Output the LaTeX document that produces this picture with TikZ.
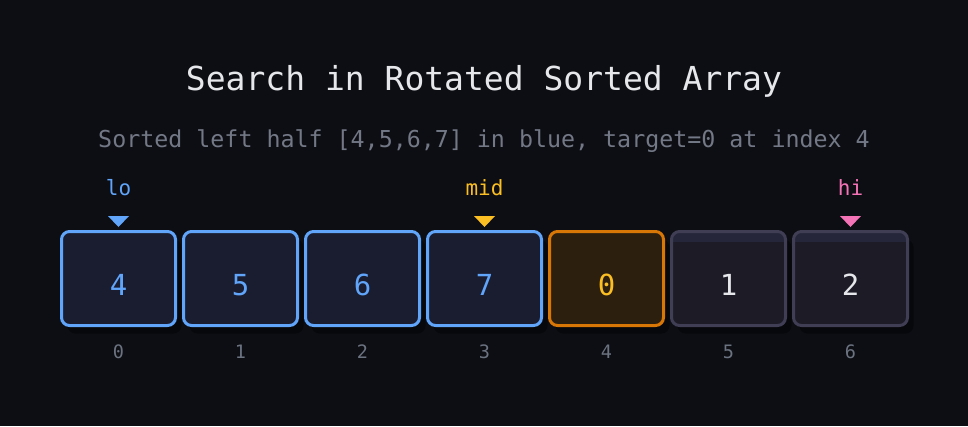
\documentclass[tikz,border=0pt]{standalone}
\usepackage{fontspec}
\setmonofont{DejaVu Sans Mono}
\definecolor{bg}{HTML}{0D0E13}
\definecolor{shadow}{HTML}{07080B}
\definecolor{titlec}{HTML}{E5E7EB}
\definecolor{subc}{HTML}{737886}
\definecolor{idxc}{HTML}{6B7280}
\definecolor{blueb}{HTML}{60A5FA}
\definecolor{bluef}{HTML}{1A1C2F}
\definecolor{orangeb}{HTML}{D97706}
\definecolor{orangef}{HTML}{2D1F0D}
\definecolor{amber}{HTML}{FBBF24}
\definecolor{grayb}{HTML}{3F3E55}
\definecolor{grayf}{HTML}{1C1B26}
\definecolor{grays}{HTML}{26263A}
\definecolor{pinkc}{HTML}{F472B6}
\tikzset{
  cell/.style={minimum width=114pt, minimum height=94pt, rounded corners=8pt, line width=3pt, inner sep=0pt,
     text depth=0pt, font=\ttfamily\fontsize{29}{32}\selectfont},
  bluecell/.style={cell, draw=blueb, fill=bluef, text=blueb},
  orangecell/.style={cell, draw=orangeb, fill=orangef, text=amber},
  graycell/.style={cell, draw=grayb, fill=grayf, text=titlec},
  idx/.style={font=\ttfamily\fontsize{18.5}{20}\selectfont, text=idxc},
  ptrlabel/.style={font=\ttfamily\fontsize{21}{24}\selectfont}
}
\begin{document}
\begin{tikzpicture}[x=1pt,y=-1pt]
\fill[bg] (0,0) rectangle (968,426);
\useasboundingbox (0,0) rectangle (968,426);
\node[font=\ttfamily\fontsize{33}{38}\selectfont, text=titlec] (title) at (484,81) {Search in Rotated Sorted Array};
\node[font=\ttfamily\fontsize{23.3}{28}\selectfont, text=subc] (sub) at (484,141) {Sorted left half [4,5,6,7] in blue, target=0 at index 4};
% shadows
\foreach \i in {0,...,6}{
  \fill[shadow, rounded corners=8pt] ({118.5+122*\i-57+6},{278.5-47+8}) rectangle ++(114,94);
}
\node[bluecell] (c0) at (118.5,278.5) {};
\node[bluecell] (c1) at (240.5,278.5) {};
\node[bluecell] (c2) at (362.5,278.5) {};
\node[bluecell] (c3) at (484.5,278.5) {};
\node[orangecell] (c4) at (606.5,278.5) {};
\foreach \i in {5,6}{
  \begin{scope}
    \clip[rounded corners=8pt] ({118.5+122*\i-57},231.5) rectangle ++(114,94);
    \fill[grayf] ({118.5+122*\i-57},231.5) rectangle ++(114,94);
    \fill[grays] ({118.5+122*\i-57},231.5) rectangle ++(114,10);
  \end{scope}
  \node[graycell, fill=none] (c\i) at ({118.5+122*\i},278.5) {};
}
\foreach \i/\v/\c in {0/4/blueb,1/5/blueb,2/6/blueb,3/7/blueb,4/0/amber,5/1/titlec,6/2/titlec}{
  \node[font=\ttfamily\fontsize{29}{32}\selectfont, text=\c] (v\i) at ([yshift=-6.5pt]c\i.center) {\v};
}
\foreach \i in {0,...,6}{
  \node[idx] (i\i) at ({118.5+122*\i},351.5) {\i};
}
% pointers
\coordinate (p0) at (118.5,221.5);
\coordinate (p3) at (484.5,221.5);
\coordinate (p6) at (850.5,221.5);
\fill[blueb] ([xshift=-10.5pt,yshift=5.5pt]p0) -- ([xshift=10.5pt,yshift=5.5pt]p0) -- ([yshift=-5.5pt]p0) -- cycle;
\node[ptrlabel, text=blueb] (lo) at (118.5,188) {lo};
\fill[amber] ([xshift=-10.5pt,yshift=5.5pt]p3) -- ([xshift=10.5pt,yshift=5.5pt]p3) -- ([yshift=-5.5pt]p3) -- cycle;
\node[ptrlabel, text=amber] (mid) at (484.5,188) {mid};
\fill[pinkc] ([xshift=-10.5pt,yshift=5.5pt]p6) -- ([xshift=10.5pt,yshift=5.5pt]p6) -- ([yshift=-5.5pt]p6) -- cycle;
\node[ptrlabel, text=pinkc] (hi) at (850.5,188) {hi};
\end{tikzpicture}
\end{document}
